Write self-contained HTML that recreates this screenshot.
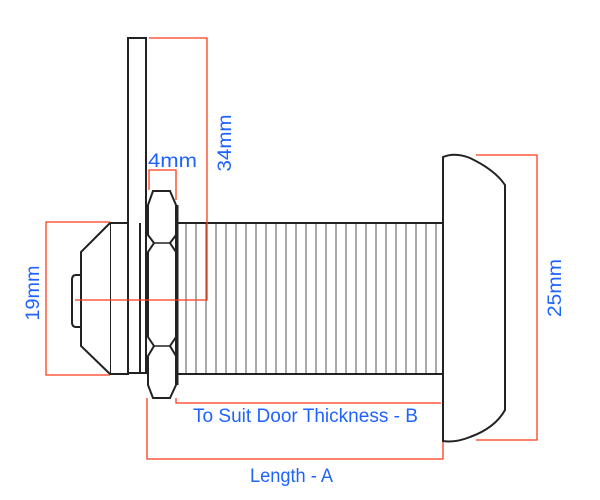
<!DOCTYPE html>
<html><head><style>
html,body{margin:0;padding:0;background:#fff;}
svg{display:block;}
text{font-family:"Liberation Sans",sans-serif;fill:#1f63ff;font-size:19px;}
</style></head><body>
<svg width="600" height="500" viewBox="0 0 600 500" xmlns="http://www.w3.org/2000/svg">
<g fill="none" stroke="#222" stroke-width="2">
  <rect x="128" y="38" width="18" height="335" fill="#fff"/>
  <rect x="110" y="223" width="18" height="151" fill="#fff"/>
  <line x1="140" y1="223" x2="140" y2="374"/>
  <path d="M110,223 L81,252 L81,346 L110,374" fill="#fff"/>
  <path d="M81,275 L76,275 Q72,275 72,280 L72,322 Q72,327 76,327 L81,327"/>
  <rect x="176" y="223" width="267" height="151" fill="#fff"/>
  <path d="M443,157 Q455,152 470,158 Q495,170 505,185 L505,410 Q495,428 470,437 Q455,443 443,441 Z" fill="#fff"/>
  <path d="M153,191 L170,191 L176,205 L176,235 L170,243 L176,252 L176,337 L170,346 L176,356 L176,385 L170,398 L153,398 L148,385 L148,356 L154,346 L148,337 L148,252 L154,243 L148,235 L148,205 Z" fill="#fff"/>
  <line x1="154" y1="243" x2="170" y2="243" stroke-width="1.5"/>
  <line x1="154" y1="346" x2="170" y2="346" stroke-width="1.5"/>
  <line x1="177" y1="205" x2="177" y2="385" stroke-width="3"/>
</g>
<g stroke="#555" stroke-width="1">
  <line x1="186" y1="224" x2="186" y2="373"/><line x1="196" y1="224" x2="196" y2="373"/>
  <line x1="206" y1="224" x2="206" y2="373"/><line x1="216" y1="224" x2="216" y2="373"/>
  <line x1="226" y1="224" x2="226" y2="373"/><line x1="236" y1="224" x2="236" y2="373"/>
  <line x1="246" y1="224" x2="246" y2="373"/><line x1="256" y1="224" x2="256" y2="373"/>
  <line x1="266" y1="224" x2="266" y2="373"/><line x1="276" y1="224" x2="276" y2="373"/>
  <line x1="286" y1="224" x2="286" y2="373"/><line x1="296" y1="224" x2="296" y2="373"/>
  <line x1="306" y1="224" x2="306" y2="373"/><line x1="316" y1="224" x2="316" y2="373"/>
  <line x1="326" y1="224" x2="326" y2="373"/><line x1="336" y1="224" x2="336" y2="373"/>
  <line x1="346" y1="224" x2="346" y2="373"/><line x1="356" y1="224" x2="356" y2="373"/>
  <line x1="366" y1="224" x2="366" y2="373"/><line x1="376" y1="224" x2="376" y2="373"/>
  <line x1="386" y1="224" x2="386" y2="373"/><line x1="396" y1="224" x2="396" y2="373"/>
  <line x1="406" y1="224" x2="406" y2="373"/><line x1="416" y1="224" x2="416" y2="373"/>
  <line x1="426" y1="224" x2="426" y2="373"/><line x1="436" y1="224" x2="436" y2="373"/>
</g>
<g fill="none" stroke="#ff3b1a" stroke-width="1.3">
  <path d="M149,38 L207,38 L207,300 L75,300"/>
  <path d="M110,222 L46,222 L46,375 L110,375"/>
  <path d="M149,190 L149,170 L176,170 L176,200"/>
  <path d="M176,398 L176,403 L441,403"/>
  <path d="M147,398 L147,459 L443,459 L443,442"/>
  <path d="M476,155 L537,155 L537,440 L476,440"/>
</g>
<text x="148" y="167" textLength="49" lengthAdjust="spacingAndGlyphs">4mm</text>
<text x="0" y="0" transform="translate(231,143) rotate(-90)" text-anchor="middle" textLength="57" lengthAdjust="spacingAndGlyphs">34mm</text>
<text x="0" y="0" transform="translate(39,293) rotate(-90)" text-anchor="middle" textLength="55" lengthAdjust="spacingAndGlyphs">19mm</text>
<text x="0" y="0" transform="translate(561,288) rotate(-90)" text-anchor="middle" textLength="58" lengthAdjust="spacingAndGlyphs">25mm</text>
<text x="193" y="422" textLength="225" lengthAdjust="spacingAndGlyphs">To Suit Door Thickness - B</text>
<text x="250" y="482" textLength="83" lengthAdjust="spacingAndGlyphs">Length - A</text>
</svg>
</body></html>
